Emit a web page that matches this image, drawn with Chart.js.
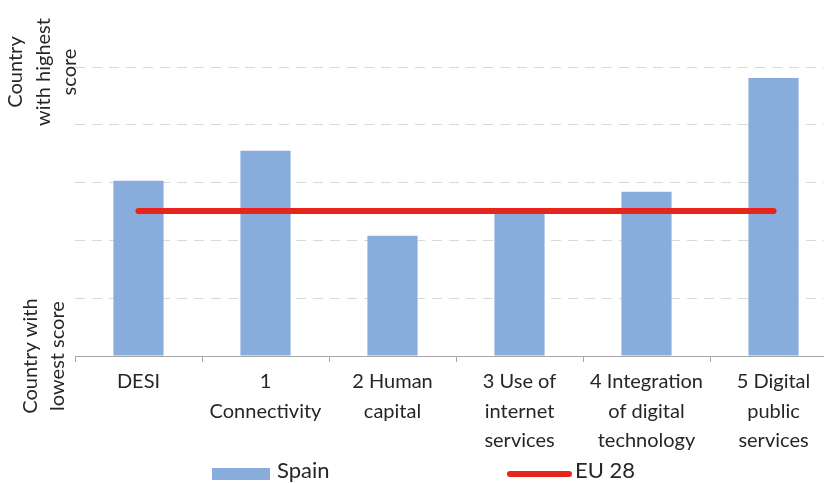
<!DOCTYPE html>
<html>
<head>
<meta charset="utf-8">
<script src="https://cdn.jsdelivr.net/npm/chart.js@4"></script>
<style>
  html, body { margin: 0; padding: 0; background: #fff; overflow: hidden; }
  #wrap { position: relative; width: 850px; height: 483px; }
  .leg { position: absolute; font-family: Lato, sans-serif; font-size: 22px; line-height: 26px; color: #262626; white-space: nowrap; }
  .swatch { position: absolute; }
</style>
</head>
<body>
<div id="wrap">
  <canvas id="chart" width="850" height="483"></canvas>
  <div class="swatch" style="left:212px; top:468px; width:58px; height:12px; background:#88acdc;"></div>
  <div class="leg" id="legSpain" style="left:277px; top:457px;"></div>
  <div class="swatch" style="left:507px; top:471px; width:65px; height:6px; background:#e8251c; border-radius:3px;"></div>
  <div class="leg" id="legEu" style="left:575px; top:457px;"></div>
</div>
<script>
// Categories (DESI dimensions)
const categories = [
  ['DESI'],
  ['1', 'Connectivity'],
  ['2 Human', 'capital'],
  ['3 Use of', 'internet', 'services'],
  ['4 Integration', 'of digital', 'technology'],
  ['5 Digital', 'public', 'services']
];

// Series values (position between lowest and highest scoring country, 0..5)
const spainScores = [3.03, 3.55, 2.08, 2.55, 2.84, 4.81];
const eu28Scores = [2.51, 2.51, 2.51, 2.51, 2.51, 2.51];

// Axis labels
const seriesNames = ['Spain', 'EU 28'];
const topAxisLabel = ['Country', 'with highest', 'score'];
const bottomAxisLabel = ['Country with', 'lowest score'];
const yMin = 0;
const yMax = 5;

document.getElementById('legSpain').textContent = seriesNames[0];
document.getElementById('legEu').textContent = seriesNames[1];

// Rotated notes at both ends of the value axis
const axisNotes = {
  id: 'axisNotes',
  afterDraw(chart) {
    const ctx = chart.ctx;
    const y = chart.scales.y;
    const left = chart.chartArea.left;
    ctx.save();
    ctx.font = '20px Lato';
    ctx.fillStyle = '#262626';
    ctx.textAlign = 'center';
    ctx.textBaseline = 'alphabetic';
    const drawNote = (lines, cy, baselines) => {
      lines.forEach((line, i) => {
        ctx.save();
        ctx.translate(left + baselines[i], cy);
        ctx.rotate(-Math.PI / 2);
        ctx.fillText(line, 0, 0);
        ctx.restore();
      });
    };
    drawNote(topAxisLabel, y.getPixelForValue(yMax) + 5, [-53, -25, 1]);
    drawNote(bottomAxisLabel, y.getPixelForValue(yMin), [-38, -11]);
    ctx.restore();
  }
};

new Chart(document.getElementById('chart'), {
  type: 'bar',
  data: {
    labels: categories,
    datasets: [
      {
        type: 'line',
        label: seriesNames[1],
        data: eu28Scores,
        borderColor: '#e8251c',
        borderWidth: 6,
        borderCapStyle: 'round',
        pointRadius: 0,
        fill: false,
        order: 0
      },
      {
        label: seriesNames[0],
        data: spainScores,
        backgroundColor: '#88acdc',
        barPercentage: 0.79,
        categoryPercentage: 0.5,
        order: 1
      }
    ]
  },
  options: {
    responsive: false,
    animation: false,
    layout: { padding: { top: 67, right: 13, left: 0, bottom: 0 } },
    plugins: {
      legend: { display: false },
      tooltip: { enabled: false }
    },
    scales: {
      x: {
        grid: { drawOnChartArea: false, drawTicks: true, tickLength: 6, color: '#a6a6a6' },
        border: { display: true, color: '#a6a6a6', width: 1 },
        ticks: {
          color: '#262626',
          font: { family: 'Lato', size: 20, lineHeight: 1.47 },
          padding: 5,
          maxRotation: 0,
          minRotation: 0,
          autoSkip: false
        },
        afterFit(scale) { scale.height = 127; }
      },
      y: {
        min: yMin,
        max: yMax,
        ticks: { display: false, stepSize: 1 },
        grid: {
          drawTicks: false,
          color: (c) => (c.tick && c.tick.value === 0 ? 'rgba(0,0,0,0)' : '#d9d9d9'),
          lineWidth: 1
        },
        border: { display: false, dash: [10, 7] },
        afterFit(scale) { scale.width = 75; }
      }
    }
  },
  plugins: [axisNotes]
});
</script>
</body>
</html>
